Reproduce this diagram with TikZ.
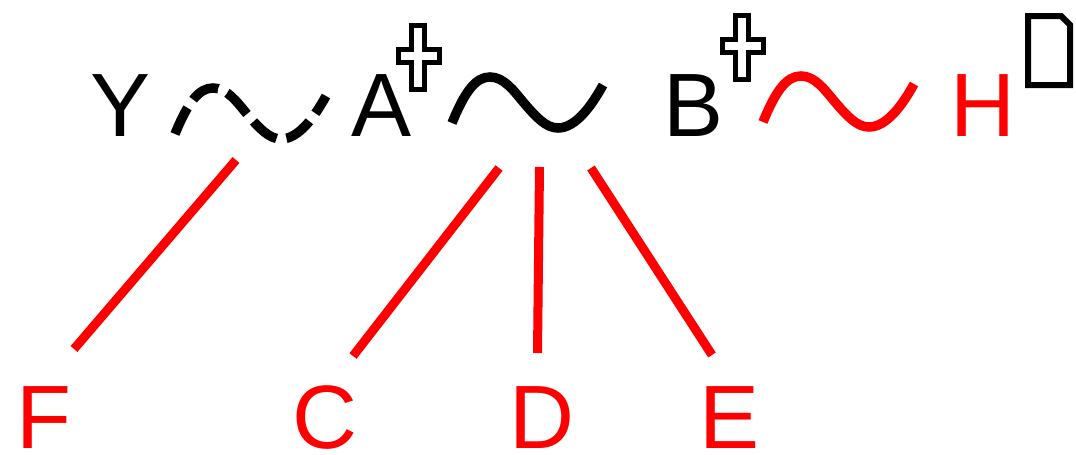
\documentclass[tikz,border=0pt]{standalone}
\usepackage{fontspec}
\setmainfont{Liberation Sans}
\begin{document}
\begin{tikzpicture}[x=1pt,y=-1pt,
  lbl/.style={anchor=base,inner sep=0pt,text depth=0pt,font=\fontsize{90}{90}\selectfont},
  redlbl/.style={lbl,text=red},
  tline/.style={line width=9.5pt},
  dashtline/.style={tline,dash pattern=on 29pt off 10pt},
  link/.style={red,line width=9pt},
  crossmark/.style={draw=black,fill=white,line width=5pt,line join=miter},
  glyphbox/.style={draw=black,line width=6pt,line join=miter},
  tilde/.pic={\draw[pic actions] (0,0) .. controls (13,-32) and (24,-46) .. (38,-46)
      .. controls (52,-46) and (62,-32) .. (72,-20)
      .. controls (84,-6) and (94,5) .. (106,5)
      .. controls (124,5) and (140,-18) .. (151,-38);},
  crosspic/.pic={\path[pic actions] (0,0) -- (13,0) -- (13,24) -- (28,24) -- (28,37) -- (13,37)
      -- (13,64) -- (0,64) -- (0,37) -- (-13,37) -- (-13,24) -- (0,24) -- cycle;}]
\useasboundingbox (0,0) rectangle (1076,455);
% top row
\node[lbl] (Y) at (121,136.5) {Y};
\pic[dashtline] (t0) at (175,134) {tilde};
\node[lbl] (A) at (382,136.5) {A};
\pic[crossmark] (xa) at (411.5,25.5) {crosspic};
\pic[tline] (t1) at (452,123) {tilde};
\node[lbl] (B) at (693.5,136.5) {B};
\pic[crossmark] (xb) at (735.5,15.5) {crosspic};
\pic[tline,red] (t2) at (763,122) {tilde};
\node[redlbl] (H) at (983,136.5) {H};
\draw[glyphbox] (1028,16) -- (1061,16) -- (1070,25) -- (1070,85) -- (1028,85) -- cycle;
% bottom row
\node[redlbl] (F) at (43.5,448.5) {F};
\node[redlbl] (C) at (325,448.5) {C};
\node[redlbl] (D) at (542,448.5) {D};
\node[redlbl] (E) at (730,448.5) {E};
% connectors
\coordinate (f1) at (236,160); \coordinate (f2) at (74,349);
\coordinate (c1) at (499,168); \coordinate (c2) at (353,356);
\coordinate (d1) at (539.5,167); \coordinate (d2) at (537.5,353);
\coordinate (e1) at (591,168); \coordinate (e2) at (712,355);
\draw[link] (f1) -- (f2);
\draw[link] (c1) -- (c2);
\draw[link] (d1) -- (d2);
\draw[link] (e1) -- (e2);
\end{tikzpicture}
\end{document}
